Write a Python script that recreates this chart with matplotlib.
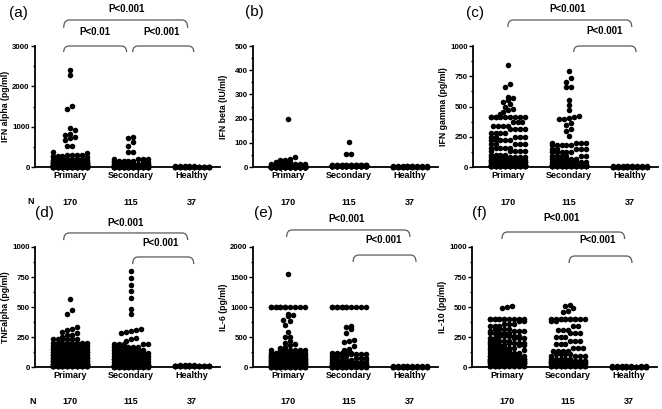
import numpy as np
import matplotlib
matplotlib.use("Agg")
import matplotlib.pyplot as plt
import matplotlib.transforms as mtransforms
from matplotlib.path import Path
from matplotlib.patches import PathPatch
from matplotlib.ticker import MultipleLocator, AutoMinorLocator

plt.rcParams["font.family"] = ["Liberation Sans", "DejaVu Sans"]

# ── data: value / count pairs ───────────────────────────────────
groups = ["Primary", "Secondary", "Healthy"]
n_per_group = [170, 115, 37]

# (a) IFN alpha
a_pri_v = [2410, 2280, 1520, 1440, 975, 910, 810, 795, 745, 710, 670, 530, 520, 380, 350,
           300, 270, 240, 210, 180, 150, 120, 90, 60, 40, 20, 5]
a_pri_n = [1, 1, 1, 1, 1, 1, 1, 1, 1, 1, 1, 1, 1, 1, 1,
           4, 3, 4, 4, 5, 6, 8, 10, 14, 18, 25, 54]
a_sec_v = [750, 730, 620, 530, 380, 370, 200, 160, 120, 80, 50, 25, 5]
a_sec_n = [1, 1, 1, 1, 1, 1, 4, 5, 6, 8, 12, 20, 54]
a_hea_v = [15, 8, 2]
a_hea_n = [5, 12, 20]

# (b) IFN beta
b_pri_v = [200, 40, 35, 30, 20, 12, 6, 2]
b_pri_n = [1, 1, 1, 2, 4, 8, 30, 123]
b_sec_v = [105, 55, 52, 8, 3]
b_sec_n = [1, 1, 1, 20, 92]
b_hea_v = [5, 2]
b_hea_n = [10, 27]

# (c) IFN gamma
c_pri_v = [843, 690, 665, 580, 570, 550, 540, 520, 500, 480, 470, 455, 440,
           410, 370, 340, 310, 280, 250, 220, 190, 160, 130, 100, 85, 60, 40, 20, 5]
c_pri_n = [1, 1, 1, 1, 1, 1, 1, 1, 1, 1, 1, 1, 1,
           10, 3, 4, 4, 4, 5, 5, 5, 5, 5, 4, 8, 9, 21, 20, 45]
c_sec_v = [795, 735, 700, 665, 660, 550, 510, 470, 420, 410, 405, 400, 395, 360, 350, 315, 300, 255,
           200, 180, 150, 120, 90, 65, 40, 20, 5]
c_sec_n = [1, 1, 1, 1, 1, 1, 1, 1, 1, 1, 1, 1, 1, 1, 1, 1, 1, 1,
           4, 5, 5, 5, 6, 6, 8, 20, 38]
c_hea_v = [8, 3]
c_hea_n = [10, 27]

# (d) TNF alpha
d_pri_v = [565, 475, 445, 330, 315, 305, 295, 280, 270, 265, 250,
           230, 200, 175, 150, 125, 100, 75, 50, 25, 5]
d_pri_n = [1, 1, 1, 1, 1, 1, 1, 1, 1, 1, 1,
           6, 8, 9, 10, 12, 14, 16, 20, 25, 39]
d_sec_v = [800, 740, 685, 630, 575, 485, 440, 320, 308, 300, 290, 285, 245, 235, 215,
           190, 165, 140, 115, 90, 65, 40, 15, 3]
d_sec_n = [1, 1, 1, 1, 1, 1, 1, 1, 1, 1, 1, 1, 1, 1, 1,
           5, 6, 7, 8, 9, 10, 14, 18, 23]
d_hea_v = [20, 12, 5]
d_hea_n = [4, 10, 23]

# (e) IL-6
e_pri_v = [1550, 1000, 880, 860, 845, 790, 770, 700, 580, 500, 495, 430, 400, 380, 360, 340, 310,
           280, 240, 200, 170, 140, 110, 80, 50, 25, 5]
e_pri_n = [1, 12, 1, 1, 1, 1, 1, 1, 1, 1, 1, 1, 1, 1, 1, 1, 1,
           7, 8, 10, 10, 12, 12, 14, 20, 22, 27]
e_sec_v = [1000, 685, 665, 630, 560, 450, 440, 420, 350, 300, 280,
           240, 210, 180, 150, 120, 90, 60, 40, 20, 5]
e_sec_n = [12, 1, 1, 1, 1, 1, 1, 1, 1, 1, 1,
           5, 4, 4, 5, 6, 7, 10, 16, 17, 19]
e_hea_v = [15, 5]
e_hea_n = [8, 29]

# (f) IL-10
f_pri_v = [505, 500, 495, 400, 380, 360, 340, 320, 300, 280, 260, 240, 220, 200, 180, 160, 140, 115,
           90, 70, 50, 30, 10]
f_pri_n = [1, 1, 1, 12, 2, 3, 3, 4, 4, 5, 5, 5, 5, 6, 6, 6, 6, 7,
           14, 16, 18, 20, 20]
f_sec_v = [520, 510, 490, 470, 460, 400, 380, 340, 310, 280, 250, 220, 190, 160, 130, 110,
           90, 70, 50, 30, 10]
f_sec_n = [1, 1, 1, 1, 1, 12, 2, 2, 3, 3, 3, 3, 3, 3, 4, 4,
           4, 5, 14, 20, 25]
f_hea_v = [8, 3]
f_hea_n = [7, 30]

ylabels = ["IFN alpha (pg/ml)", "IFN beta (IU/ml)", "IFN gamma (pg/ml)",
           "TNFalpha (pg/ml)", "IL-6 (pg/ml)", "IL-10 (pg/ml)"]
letters = ["(a)", "(b)", "(c)", "(d)", "(e)", "(f)"]
ymaxs = [3000, 500, 1000, 1000, 2000, 1000]
ysteps = [1000, 100, 250, 250, 500, 250]

panels = [
    [(a_pri_v, a_pri_n), (a_sec_v, a_sec_n), (a_hea_v, a_hea_n)],
    [(b_pri_v, b_pri_n), (b_sec_v, b_sec_n), (b_hea_v, b_hea_n)],
    [(c_pri_v, c_pri_n), (c_sec_v, c_sec_n), (c_hea_v, c_hea_n)],
    [(d_pri_v, d_pri_n), (d_sec_v, d_sec_n), (d_hea_v, d_hea_n)],
    [(e_pri_v, e_pri_n), (e_sec_v, e_sec_n), (e_hea_v, e_hea_n)],
    [(f_pri_v, f_pri_n), (f_sec_v, f_sec_n), (f_hea_v, f_hea_n)],
]

# brackets: (x1, x2, y_top, y_end, text, text_x, text_y)  -- y in axes fraction
brackets = [
    [(0.90, 2.93, 1.215, 1.150, "P<0.001", 1.93, 1.306),
     (0.90, 1.93, 1.000, 0.950, "P<0.01", 1.41, 1.116),
     (2.03, 3.03, 1.000, 0.950, "P<0.001", 2.50, 1.116)],
    [],
    [(1.00, 3.03, 1.215, 1.157, "P<0.001", 1.98, 1.306),
     (2.08, 3.10, 1.000, 0.950, "P<0.001", 2.59, 1.124)],
    [(0.90, 2.93, 1.117, 1.058, "P<0.001", 1.92, 1.200),
     (2.03, 3.03, 0.917, 0.858, "P<0.001", 2.49, 1.033)],
    [(0.98, 3.00, 1.142, 1.083, "P<0.001", 1.97, 1.233),
     (2.07, 3.10, 0.933, 0.875, "P<0.001", 2.57, 1.058)],
    [(0.92, 2.93, 1.125, 1.067, "P<0.001", 1.90, 1.242),
     (2.02, 3.05, 0.925, 0.867, "P<0.001", 2.49, 1.058)],
]

W, H = 662, 409
fig = plt.figure(figsize=(W / 100, H / 100), dpi=100)

# axes boxes in pixels: (left, top, width, bottom)
boxes = [(35, 46, 185, 167), (253, 46, 185, 167), (473, 46, 185, 167),
         (35, 247, 185, 367), (253, 247, 185, 367), (472, 247, 185, 367)]
letter_pos = [(18, 13), (254, 12), (475, 13), (44, 213), (263, 213), (479, 213)]
DX = 0.08       # horizontal spacing between dots (data units)
MAXCOL = 8


def column_scatter(vals, ymax, h_px):
    """Prism-like column scatter: rows of similar values spread sideways."""
    vals = np.sort(np.asarray(vals, dtype=float))
    binh = ymax / h_px * 4.8
    rows = []
    for v in vals:
        if not rows or v - rows[-1][0] > binh:
            rows.append([v])
        else:
            rows[-1].append(v)
    xs, ys = [], []
    for row in rows:
        k = min(len(row), MAXCOL)
        for i, v in enumerate(row):
            xs.append((i % k - (k - 1) / 2) * DX)
            ys.append(v)
    return np.array(xs), np.array(ys)


def bracket(ax, x1, x2, ytop, yend, r=0.09):
    tr = mtransforms.blended_transform_factory(ax.transData, ax.transAxes)
    verts = [(x1, yend), (x1, ytop), (x1 + r, ytop), (x2 - r, ytop), (x2, ytop), (x2, yend)]
    codes = [Path.MOVETO, Path.CURVE3, Path.CURVE3, Path.LINETO, Path.CURVE3, Path.CURVE3]
    ax.add_patch(PathPatch(Path(verts, codes), fill=False, edgecolor="#5a5a5a",
                           lw=0.9, transform=tr, clip_on=False))


for p in range(6):
    l, t, w, b = boxes[p]
    ax = fig.add_axes([l / W, (H - b) / H, w / W, (b - t) / H])
    h_px = b - t
    for g, (vals, cnts) in enumerate(panels[p]):
        data = np.repeat(vals, cnts)
        xs, ys = column_scatter(data, ymaxs[p], h_px)
        ax.scatter(g + 1 + xs, ys, s=16, color="black", linewidths=0, zorder=3, clip_on=False)
        ax.hlines(np.median(data), g + 1 - 0.3, g + 1 + 0.3, color="black", lw=1.3, zorder=4)

    ax.set_xlim(0.43, 3.46)
    ax.set_ylim(0, ymaxs[p])
    ax.yaxis.set_major_locator(MultipleLocator(ysteps[p]))
    ax.yaxis.set_minor_locator(AutoMinorLocator(2))
    ax.set_xticks([1, 2, 3])
    ax.set_xticklabels(groups, fontsize=6.5, fontweight="bold")
    for lab in ax.get_yticklabels():
        lab.set_fontsize(5.7)
        lab.set_fontweight("bold")
    ax.tick_params(axis="x", length=0, pad=3)
    ax.tick_params(axis="y", which="major", length=3, width=1, pad=0.8)
    ax.tick_params(axis="y", which="minor", length=1.8, width=1)
    ax.spines["top"].set_visible(False)
    ax.spines["right"].set_visible(False)
    ax.spines["left"].set_linewidth(1.3)
    ax.spines["bottom"].set_linewidth(1.3)
    ax.set_ylabel(ylabels[p], fontsize=6.3, fontweight="bold")
    ax.yaxis.set_label_coords(-0.135, 0.5)

    # N row
    tr = mtransforms.blended_transform_factory(ax.transData, ax.transAxes)
    ny = -35 / h_px
    for g in range(3):
        ax.text(g + 1, ny, str(n_per_group[g]), transform=tr, ha="center", va="center",
                fontsize=6.5, fontweight="bold")

    for x1, x2, ytop, yend, txt, tx, ty in brackets[p]:
        bracket(ax, x1, x2, ytop, yend)
        ax.text(tx, ty, txt, transform=tr, ha="center", va="center",
                fontsize=7, fontweight="bold")

    lx, ly = letter_pos[p]
    fig.text(lx / W, 1 - ly / H, letters[p], ha="center", va="center", fontsize=11)

fig.text(31 / W, 1 - 202 / H, "N", ha="center", va="center", fontsize=6.5, fontweight="bold")
fig.text(33 / W, 1 - 402 / H, "N", ha="center", va="center", fontsize=6.5, fontweight="bold")

fig.savefig("out.png", dpi=100)
